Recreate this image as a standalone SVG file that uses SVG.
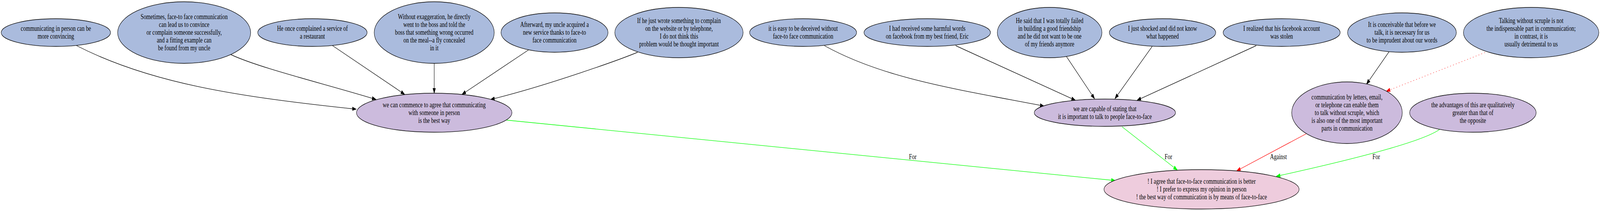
<svg xmlns="http://www.w3.org/2000/svg" width="5413" height="541" viewBox="0 0 5413 541" preserveAspectRatio="none">
<style>
:root{width:100vw;height:100vh}
text{font-family:"Liberation Serif","Times New Roman",serif;font-size:18.3px;text-anchor:middle;fill:#000}
.node ellipse{stroke:#000;stroke-width:1.33}
.p ellipse{fill:#aabbdd}
.c ellipse{fill:#ccbbdd}
.m ellipse{fill:#eeccdd}
.e{fill:none;stroke-width:1.33}
.k{stroke:#000;marker-end:url(#ak)}
.g{stroke:#00ff00;marker-end:url(#ag)}
.r{stroke:#ff0000;marker-end:url(#ar)}
.d{stroke-dasharray:2 8}
</style>
<defs>
<marker id="ak" markerUnits="userSpaceOnUse" markerWidth="16" markerHeight="12" refX="13.3" refY="4.7" orient="auto"><path d="M0,0 L13.3,4.7 L0,9.4 z" fill="#000" stroke="#000" stroke-width="1"/></marker>
<marker id="ag" markerUnits="userSpaceOnUse" markerWidth="16" markerHeight="12" refX="13.3" refY="4.7" orient="auto"><path d="M0,0 L13.3,4.7 L0,9.4 z" fill="#00ff00" stroke="#00ff00" stroke-width="1"/></marker>
<marker id="ar" markerUnits="userSpaceOnUse" markerWidth="16" markerHeight="12" refX="13.3" refY="4.7" orient="auto"><path d="M0,0 L13.3,4.7 L0,9.4 z" fill="#ff0000" stroke="#ff0000" stroke-width="1"/></marker>
</defs>
<rect width="5413" height="541" fill="#fff"/>
<g id="edges">
<path class="e k" d="M259,117 C509,214 805,248 1205,280"/>
<path class="e k" d="M781,140 C880,175 1100,215 1272,255"/>
<path class="e k" d="M1125,117 L1369,242"/>
<path class="e k" d="M1469,162 L1469,239"/>
<path class="e k" d="M1788,128 L1563,242"/>
<path class="e k" d="M2157,134 C2100,152 1850,220 1660,255"/>
<path class="e k" d="M2789,117 C2989,201 3232,228 3532,272"/>
<path class="e k" d="M3233,117 L3638,257"/>
<path class="e k" d="M3608,145 L3703,253"/>
<path class="e k" d="M3898,119 L3772,253"/>
<path class="e k" d="M4250,117 L3847,257"/>
<path class="e k" d="M4699,133 L4623,216"/>
<path class="e r d" d="M5033,132 L4690,234"/>
<path class="e g" d="M1714,308 L3773,463"/>
<text x="3088" y="408">For</text>
<path class="e g" d="M3796,325 L3983,436"/>
<text x="3953" y="408">For</text>
<path class="e r" d="M4419,343 L4184,438"/>
<text x="4325" y="408">Against</text>
<path class="e g" d="M4870,332 C4800,370 4480,425 4318,452"/>
<text x="4656" y="408">For</text>
</g>
<g id="n1" class="node p"><ellipse cx="189" cy="83.5" rx="185" ry="35.5"/><text x="189" y="79.5">communicating in person can be</text><text x="189" y="99.5">more convincing</text></g>
<g id="n2" class="node p"><ellipse cx="623" cy="83.5" rx="225" ry="79"/><text x="623" y="49.5">Sometimes, face-to face communication</text><text x="623" y="69.5">can lead us to convince</text><text x="623" y="89.5">or complain someone successfully,</text><text x="623" y="109.5">and a fitting example can</text><text x="623" y="129.5">be found from my uncle</text></g>
<g id="n3" class="node p"><ellipse cx="1057" cy="83.5" rx="185" ry="35.5"/><text x="1057" y="79.5">He once complained a service of</text><text x="1057" y="99.5">a restaurant</text></g>
<g id="n4" class="node p"><ellipse cx="1469" cy="83.5" rx="203" ry="79"/><text x="1469" y="49.5">Without exaggeration, he directly</text><text x="1469" y="69.5">went to the boss and told the</text><text x="1469" y="89.5">boss that something wrong occurred</text><text x="1469" y="109.5">on the meal--a fly concealed</text><text x="1469" y="129.5">in it</text></g>
<g id="n5" class="node p"><ellipse cx="1876" cy="83.5" rx="181" ry="50.5"/><text x="1876" y="69.5">Afterward, my uncle acquired a</text><text x="1876" y="89.5">new service thanks to face-to</text><text x="1876" y="109.5">face communication</text></g>
<g id="n6" class="node p"><ellipse cx="2297" cy="83.5" rx="217" ry="64.5"/><text x="2297" y="59.5">If he just wrote something to complain</text><text x="2297" y="79.5">on the website or by telephone,</text><text x="2297" y="99.5">I do not think this</text><text x="2297" y="119.5">problem would be thought important</text></g>
<g id="n7" class="node p"><ellipse cx="2717" cy="83.5" rx="181" ry="35.5"/><text x="2717" y="79.5">it is easy to be deceived without</text><text x="2717" y="99.5">face-to face communication</text></g>
<g id="n8" class="node p"><ellipse cx="3137" cy="83.5" rx="214" ry="35.5"/><text x="3137" y="79.5">I had received some harmful words</text><text x="3137" y="99.5">on facebook from my best friend, Eric</text></g>
<g id="n9" class="node p"><ellipse cx="3551" cy="83.5" rx="177" ry="64.5"/><text x="3551" y="59.5">He said that I was totally failed</text><text x="3551" y="79.5">in building a good friendship</text><text x="3551" y="99.5">and he did not want to be one</text><text x="3551" y="119.5">of my friends anymore</text></g>
<g id="n10" class="node p"><ellipse cx="3933" cy="83.5" rx="180" ry="35.5"/><text x="3933" y="79.5">I just shocked and did not know</text><text x="3933" y="99.5">what happened</text></g>
<g id="n11" class="node p"><ellipse cx="4336" cy="83.5" rx="198" ry="35.5"/><text x="4336" y="79.5">I realized that his facebook account</text><text x="4336" y="99.5">was stolen</text></g>
<g id="n12" class="node p"><ellipse cx="4743" cy="83.5" rx="184" ry="50.5"/><text x="4743" y="69.5">It is conceivable that before we</text><text x="4743" y="89.5">talk, it is necessary for us</text><text x="4743" y="109.5">to be imprudent about our words</text></g>
<g id="n13" class="node p"><ellipse cx="5180" cy="83.5" rx="229" ry="64.5"/><text x="5180" y="59.5">Talking without scruple is not</text><text x="5180" y="79.5">the indispensable part in communication;</text><text x="5180" y="99.5">in contrast, it is</text><text x="5180" y="119.5">usually detrimental to us</text></g>
<g id="c1" class="node c"><ellipse cx="1469" cy="289" rx="263" ry="50"/><text x="1469" y="275">we can commence to agree that communicating</text><text x="1469" y="295">with someone in person</text><text x="1469" y="315">is the best way</text></g>
<g id="c2" class="node c"><ellipse cx="3738" cy="289" rx="239" ry="35"/><text x="3738" y="285">we are capable of stating that</text><text x="3738" y="305">it is important to talk to people face-to-face</text></g>
<g id="c3" class="node c"><ellipse cx="4557" cy="289" rx="187" ry="79"/><text x="4557" y="255">communication by letters, email,</text><text x="4557" y="275">or telephone can enable them</text><text x="4557" y="295">to talk without scruple, which</text><text x="4557" y="315">is also one of the most important</text><text x="4557" y="335">parts in communication</text></g>
<g id="c4" class="node c"><ellipse cx="4983" cy="289" rx="214" ry="50"/><text x="4983" y="275">the advantages of this are qualitatively</text><text x="4983" y="295">greater than that of</text><text x="4983" y="315">the opposite</text></g>
<g id="main" class="node m"><ellipse cx="4065" cy="485.5" rx="330" ry="50.5"/><text x="4065" y="471.5">! I agree that face-to-face communication is better</text><text x="4065" y="491.5">! I prefer to express my opinion in person</text><text x="4065" y="511.5">! the best way of communication is by means of face-to-face</text></g>
</svg>
